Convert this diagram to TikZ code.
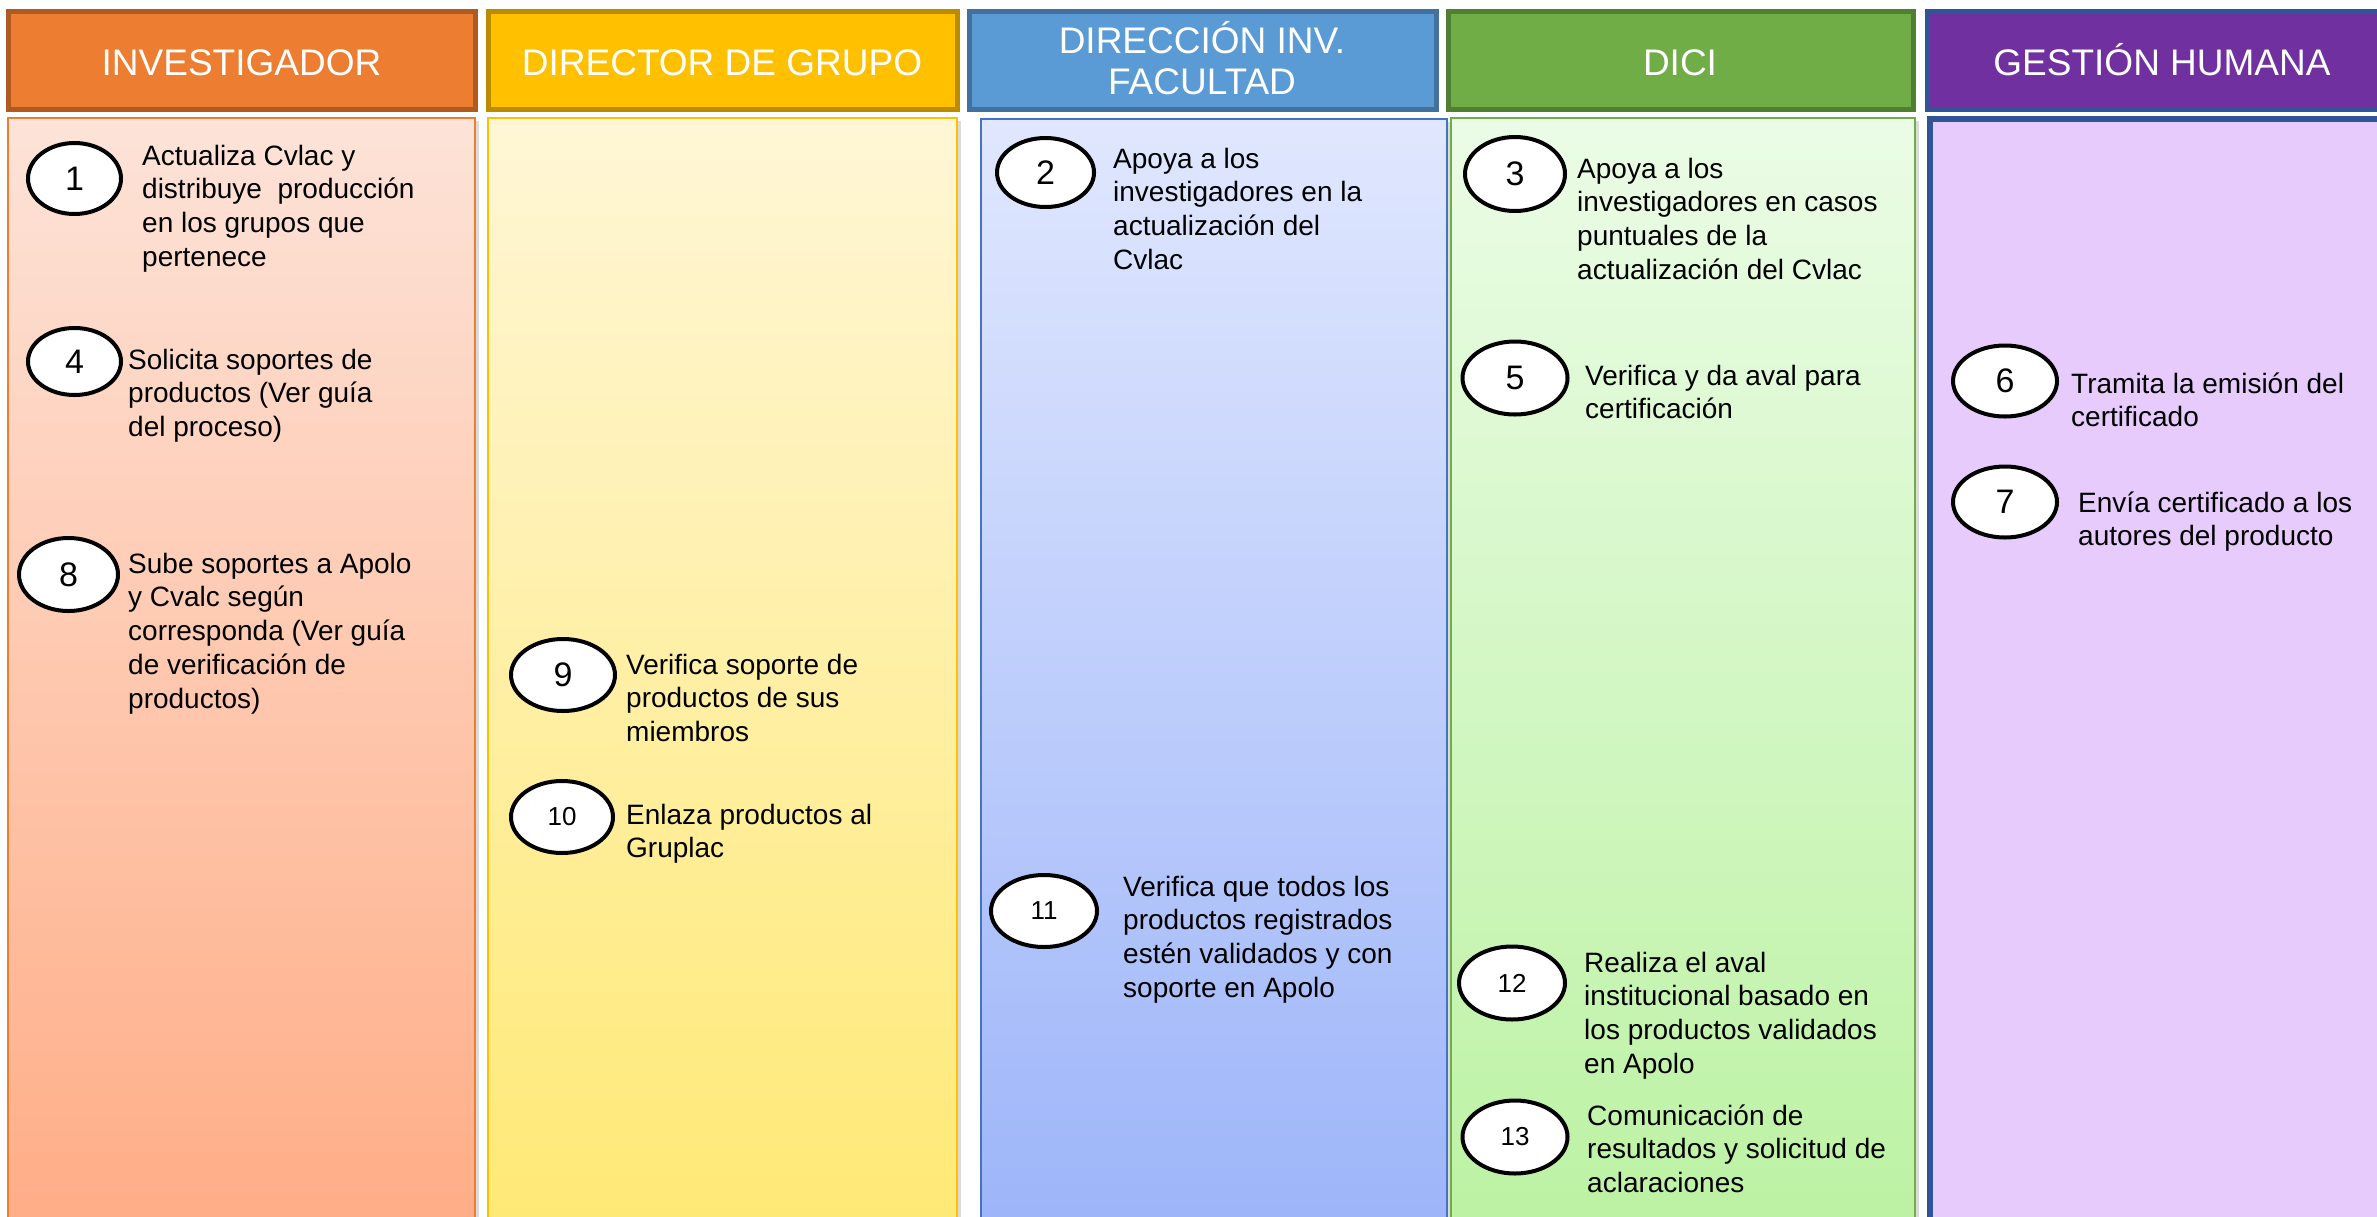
\documentclass[tikz,border=0pt]{standalone}
\usepackage{fontspec}
\setmainfont{Liberation Sans}
\usetikzlibrary{shapes.geometric}
\definecolor{hOne}{HTML}{ED7D31}\definecolor{hOneB}{HTML}{AE5A21}
\definecolor{hTwo}{HTML}{FFC000}\definecolor{hTwoB}{HTML}{BC8C00}
\definecolor{hThree}{HTML}{5B9BD5}\definecolor{hThreeB}{HTML}{41719C}
\definecolor{hFour}{HTML}{70AD47}\definecolor{hFourB}{HTML}{507E32}
\definecolor{hFive}{HTML}{7030A0}\definecolor{hFiveB}{HTML}{2F5597}
\definecolor{bOneT}{HTML}{FDE3D8}\definecolor{bOneB}{HTML}{FFAD86}
\definecolor{bTwoT}{HTML}{FFF6D6}\definecolor{bTwoB}{HTML}{FFE975}
\definecolor{bThreeT}{HTML}{E0E7FE}\definecolor{bThreeB}{HTML}{9DB5F9}\definecolor{bThreeL}{HTML}{4472C4}
\definecolor{bFourT}{HTML}{EBFCE6}\definecolor{bFourB}{HTML}{BCF2A3}
\definecolor{bFive}{HTML}{E6CBFC}
\newcommand\lns[1]{\begin{tabular}[t]{@{}l@{}}#1\end{tabular}}
\newcommand\clns[1]{\begin{tabular}[t]{@{}c@{}}#1\end{tabular}}
\begin{document}
\begin{tikzpicture}[x=1pt,y=-1pt,
  hdr/.style={line width=5pt},
  hdrtext/.style={text=white, font=\fontsize{37}{41}\selectfont, anchor=base, inner sep=0pt},
  lane/.style={line width=2.5pt},
  shadowbox/.style={fill=black!14},
  num/.style={ellipse, draw=black, line width=4pt, fill=white, inner sep=0pt, font=\fontsize{34}{40}\selectfont},
  numsm/.style={num, font=\fontsize{26}{30}\selectfont},
  txt/.style={anchor=base west, inner sep=0pt, font=\fontsize{28}{33.8}\selectfont}]
\clip (0,0) rectangle (2377,1216);
\fill[white] (0,0) rectangle (2377,1216);
% headers
\draw[hdr, draw=hOneB, fill=hOne] (8,11) rectangle (475,109);
\draw[hdr, draw=hTwoB, fill=hTwo] (488,11) rectangle (957,109);
\draw[hdr, draw=hThreeB, fill=hThree] (969,11) rectangle (1436,109);
\draw[hdr, draw=hFourB, fill=hFour] (1448,11) rectangle (1913,109);
\draw[hdr, draw=hFiveB, fill=hFive] (1927,11) rectangle (2400,109);
\node[hdrtext] (h1) at (241.5,75) {INVESTIGADOR};
\node[hdrtext] (h2) at (722,75) {DIRECTOR DE GRUPO};
\node[hdrtext] (h3) at (1202,53) {\clns{DIRECCIÓN INV.\\FACULTAD}};
\node[hdrtext] (h4) at (1680,75) {DICI};
\node[hdrtext] (h5) at (2162,75) {GESTIÓN HUMANA};
% lanes (shadows first)
\fill[shadowbox] (12,121) rectangle (479,1230);
\fill[shadowbox] (492,121) rectangle (961,1230);
\fill[shadowbox] (985,122) rectangle (1452,1230);
\fill[shadowbox] (1455,121) rectangle (1919,1230);
\draw[lane, draw=hOne, top color=bOneT, bottom color=bOneB] (8,118) rectangle (475,1226);
\draw[lane, draw=hTwo, top color=bTwoT, bottom color=bTwoB] (488,118) rectangle (957,1226);
\draw[lane, draw=bThreeL, top color=bThreeT, bottom color=bThreeB] (981,119) rectangle (1447,1226);
\draw[lane, draw=hFour, top color=bFourT, bottom color=bFourB] (1451,118) rectangle (1915,1226);
\draw[line width=6pt, draw=hFiveB, fill=bFive] (1930,119) rectangle (2400,1226);
% step numbers
\node[num, minimum width=93pt, minimum height=71pt] (e1) at (74.5,178.5) {1};
\node[num, minimum width=93pt, minimum height=67pt] (e4) at (74.5,361.5) {4};
\node[num, minimum width=99pt, minimum height=73pt] (e8) at (68.5,574.5) {8};
\node[num, minimum width=104pt, minimum height=72pt] (e9) at (563,675) {9};
\node[numsm, minimum width=102pt, minimum height=72pt] (e10) at (562,817) {10};
\node[num, minimum width=97pt, minimum height=69pt] (e2) at (1045.5,172.5) {2};
\node[numsm, minimum width=106pt, minimum height=72pt] (e11) at (1044,911) {11};
\node[num, minimum width=100pt, minimum height=74pt] (e3) at (1515,174) {3};
\node[num, minimum width=105pt, minimum height=73pt] (e5) at (1515,378) {5};
\node[numsm, minimum width=106pt, minimum height=73pt] (e12) at (1512,983) {12};
\node[numsm, minimum width=105pt, minimum height=73pt] (e13) at (1515,1137) {13};
\node[num, minimum width=104pt, minimum height=71pt] (e6) at (2005,381) {6};
\node[num, minimum width=104pt, minimum height=71pt] (e7) at (2005,502) {7};
% step texts
\node[txt] (t1) at (142,165) {\lns{Actualiza Cvlac y\\distribuye\ \ producción\\en los grupos que\\pertenece}};
\node[txt] (t4) at (128,369) {\lns{Solicita soportes de\\productos (Ver guía\\del proceso)}};
\node[txt] (t8) at (128,573) {\lns{Sube soportes a Apolo\\y Cvalc según\\corresponda (Ver guía\\de verificación de\\productos)}};
\node[txt] (t9) at (626,674) {\lns{Verifica soporte de\\productos de sus\\miembros}};
\node[txt] (t10) at (626,824) {\lns{Enlaza productos al\\Gruplac}};
\node[txt] (t2) at (1113,168) {\lns{Apoya a los\\investigadores en la\\actualización del\\Cvlac}};
\node[txt] (t11) at (1123,896) {\lns{Verifica que todos los\\productos registrados\\estén validados y con\\soporte en Apolo}};
\node[txt] (t3) at (1577,178) {\lns{Apoya a los\\investigadores en casos\\puntuales de la\\actualización del Cvlac}};
\node[txt] (t5) at (1585,385) {\lns{Verifica y da aval para\\certificación}};
\node[txt] (t12) at (1584,972) {\lns{Realiza el aval\\institucional basado en\\los productos validados\\en Apolo}};
\node[txt] (t13) at (1587,1125) {\lns{Comunicación de\\resultados y solicitud de\\aclaraciones}};
\node[txt] (t6) at (2071,393) {\lns{Tramita la emisión del\\certificado}};
\node[txt] (t7) at (2078,512) {\lns{Envía certificado a los\\autores del producto}};
\end{tikzpicture}
\end{document}
